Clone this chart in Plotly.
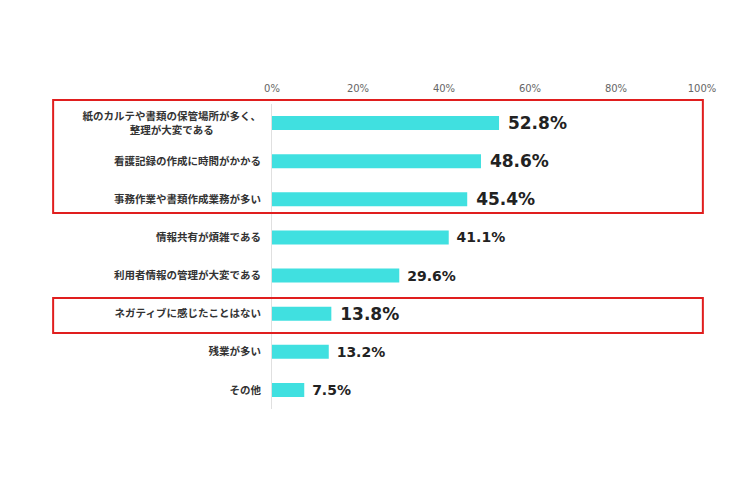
#!/usr/bin/env python3
# ネガティブに感じたこと - horizontal bar chart

import plotly.graph_objects as go

# --- data ---
categories = [
    "紙のカルテや書類の保管場所が多く、<br>整理が大変である\u3000\u3000\u3000\u3000\u2002",
    "看護記録の作成に時間がかかる",
    "事務作業や書類作成業務が多い",
    "情報共有が煩雑である",
    "利用者情報の管理が大変である",
    "ネガティブに感じたことはない",
    "残業が多い",
    "その他",
]
values = [52.8, 48.6, 45.4, 41.1, 29.6, 13.8, 13.2, 7.5]
highlighted = [True, True, True, False, False, True, False, False]
tick_vals = [0, 20, 40, 60, 80, 100]
tick_text = ["0%", "20%", "40%", "60%", "80%", "100%"]


def main():
    label_sizes = [17 if h else 14 for h in highlighted]

    fig = go.Figure(
        go.Bar(
            x=values,
            y=categories,
            orientation="h",
            width=0.37,
            marker=dict(color="#40E0E0", line=dict(width=0)),
            text=[f" {v:.1f}%" for v in values],
            textposition="outside",
            constraintext="none",
            cliponaxis=False,
            textfont=dict(
                family="DejaVu Sans, sans-serif",
                size=label_sizes,
                color="#222222",
                weight="bold",
            ),
        )
    )

    # red highlight boxes (paper coords so they can sit outside the plot area)
    box_style = dict(type="rect", xref="paper", yref="paper",
                     line=dict(color="#E01E1E", width=2), fillcolor="rgba(0,0,0,0)",
                     layer="above")
    fig.add_shape(x0=-0.509, x1=1.002, y0=0.643, y1=1.013, **box_style)
    fig.add_shape(x0=-0.509, x1=1.002, y0=0.249, y1=0.364, **box_style)

    fig.update_layout(
        width=745,
        height=497,
        plot_bgcolor="white",
        paper_bgcolor="white",
        showlegend=False,
        margin=dict(l=264, r=51, t=96, b=96),
        font=dict(family="Noto Sans CJK JP", color="#333333"),
        xaxis=dict(
            range=[0, 100],
            side="top",
            tickvals=tick_vals,
            ticktext=tick_text,
            tickfont=dict(size=10, color="#666666", family="DejaVu Sans, sans-serif"),
            showgrid=False,
            zeroline=False,
            showline=False,
            ticks="",
            ticklabelstandoff=9,
            fixedrange=True,
        ),
        yaxis=dict(
            autorange=False,
            range=[len(categories) - 0.5, -0.5],
            tickfont=dict(size=10.5, color="#333333", family="Noto Sans CJK JP", weight="bold"),
            showgrid=False,
            zeroline=False,
            showline=True,
            linecolor="#E0E0E0",
            linewidth=1,
            ticks="",
            ticklabelstandoff=8,
        ),
    )

    fig.write_html("out.html")


if __name__ == "__main__":
    main()
